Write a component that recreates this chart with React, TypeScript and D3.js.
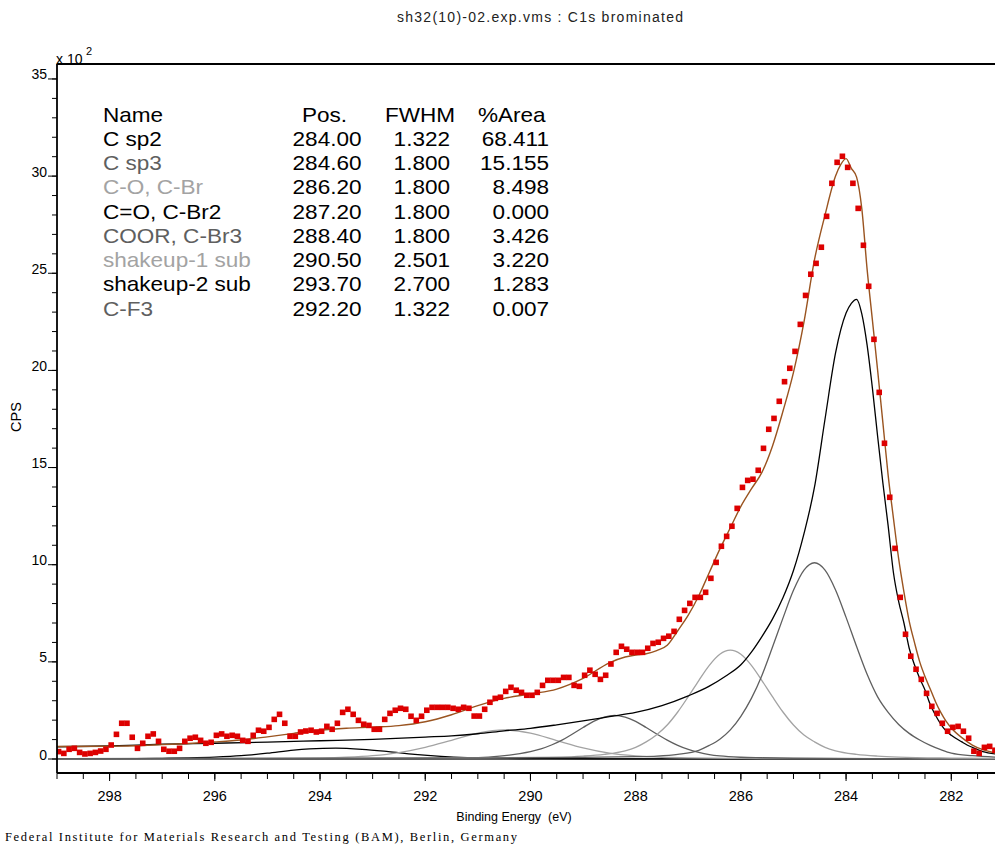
import React from "react";
import * as d3 from "d3";

const FONT = "'Liberation Sans', Arial, Helvetica, sans-serif";

// Measured spectrum (binding energy, eV) and counts (x 10^2 CPS)
const dataEnergy = [
  298.97, 298.87, 298.77, 298.67, 298.57, 298.47, 298.37, 298.27, 298.17, 298.07,
  297.97, 297.87, 297.77, 297.67, 297.57, 297.47, 297.37, 297.27, 297.17, 297.07,
  296.97, 296.87, 296.77, 296.67, 296.57, 296.47, 296.37, 296.27, 296.17, 296.07,
  295.97, 295.87, 295.77, 295.67, 295.57, 295.47, 295.37, 295.27, 295.17, 295.07,
  294.97, 294.87, 294.77, 294.67, 294.57, 294.47, 294.37, 294.27, 294.17, 294.07,
  293.97, 293.87, 293.77, 293.67, 293.57, 293.47, 293.37, 293.27, 293.17, 293.07,
  292.97, 292.87, 292.77, 292.67, 292.57, 292.47, 292.37, 292.27, 292.17, 292.07,
  291.97, 291.87, 291.77, 291.67, 291.57, 291.47, 291.37, 291.27, 291.17, 291.07,
  290.97, 290.87, 290.77, 290.67, 290.57, 290.47, 290.37, 290.27, 290.17, 290.07,
  289.97, 289.87, 289.77, 289.67, 289.57, 289.47, 289.37, 289.27, 289.17, 289.07,
  288.97, 288.87, 288.77, 288.67, 288.57, 288.47, 288.37, 288.27, 288.17, 288.07,
  287.97, 287.87, 287.77, 287.67, 287.57, 287.47, 287.37, 287.27, 287.17, 287.07,
  286.97, 286.87, 286.77, 286.67, 286.57, 286.47, 286.37, 286.27, 286.17, 286.07,
  285.97, 285.87, 285.77, 285.67, 285.57, 285.47, 285.37, 285.27, 285.17, 285.07,
  284.97, 284.87, 284.77, 284.67, 284.57, 284.47, 284.37, 284.27, 284.17, 284.07,
  283.97, 283.87, 283.77, 283.67, 283.57, 283.47, 283.37, 283.27, 283.17, 283.07,
  282.97, 282.87, 282.77, 282.67, 282.57, 282.47, 282.37, 282.27, 282.17, 282.07,
  281.97, 281.87, 281.77, 281.67, 281.57, 281.47, 281.37, 281.27, 281.17,
];
const dataCps = [
  0.38, 0.29, 0.5, 0.55, 0.34, 0.26, 0.29, 0.34, 0.41, 0.5,
  0.72, 1.27, 1.84, 1.84, 1.12, 0.55, 0.81, 1.17, 1.29, 0.91,
  0.5, 0.4, 0.4, 0.55, 0.91, 1.07, 1.12, 0.96, 0.81, 0.86,
  1.22, 1.29, 1.17, 1.22, 1.17, 0.96, 0.91, 1.22, 1.48, 1.43,
  1.63, 2.04, 2.3, 1.84, 1.17, 1.17, 1.39, 1.44, 1.48, 1.39,
  1.43, 1.68, 1.53, 1.84, 2.4, 2.56, 2.3, 1.99, 1.79, 1.73,
  1.53, 1.53, 2.04, 2.35, 2.51, 2.61, 2.56, 2.2, 1.99, 2.2,
  2.51, 2.66, 2.66, 2.66, 2.66, 2.61, 2.56, 2.66, 2.61, 2.21,
  2.21, 2.56, 2.92, 3.12, 3.18, 3.48, 3.69, 3.54, 3.43, 3.28,
  3.28, 3.43, 3.79, 4.05, 4.05, 4.05, 4.2, 4.2, 3.79, 3.74,
  4.31, 4.57, 4.36, 4.1, 4.31, 4.89, 5.49, 5.8, 5.65, 5.49,
  5.49, 5.49, 5.7, 5.95, 6.01, 6.21, 6.32, 6.57, 7.19, 7.65,
  8.01, 8.32, 8.32, 8.58, 9.3, 10.12, 10.95, 11.46, 11.98, 12.9,
  13.98, 14.34, 14.4, 14.86, 15.99, 16.97, 17.53, 18.41, 19.42, 20.11,
  20.98, 22.37, 23.86, 24.95, 25.51, 26.34, 27.93, 29.63, 30.71, 31.02,
  30.45, 29.63, 28.34, 26.44, 24.33, 21.6, 18.87, 16.25, 13.47, 10.84,
  8.32, 6.42, 5.29, 4.62, 4.1, 3.38, 2.71, 2.35, 1.84, 1.43,
  1.63, 1.68, 1.43, 1.07, 0.4, 0.29, 0.6, 0.65, 0.45,
];

// Fitted envelope [BE, cps x100]
const envelope: [number, number][] = [
  [299.0, 0.64], [298.0, 0.66], [297.5, 0.68], [297.0, 0.74], [296.5, 0.8], [296.0, 0.88],
  [295.5, 0.98], [295.0, 1.14], [294.5, 1.32], [294.0, 1.48], [293.5, 1.58], [293.0, 1.64],
  [292.5, 1.72], [292.0, 1.92], [291.5, 2.28], [291.0, 2.75], [290.5, 3.12], [290.0, 3.35],
  [289.5, 3.6], [289.0, 4.15], [288.5, 4.95], [288.2, 5.25], [288.0, 5.35], [287.8, 5.42],
  [287.6, 5.58], [287.4, 5.85], [287.2, 6.6], [287.0, 7.4], [286.8, 8.4], [286.6, 9.6],
  [286.4, 10.8], [286.2, 11.9], [286.0, 13.0], [285.8, 13.9], [285.6, 14.75], [285.4, 16.1],
  [285.2, 17.9], [285.0, 19.9], [284.8, 22.5], [284.6, 25.7], [284.4, 28.0], [284.2, 30.0],
  [284.1, 30.6], [284.0, 30.9], [283.9, 30.4], [283.8, 29.95], [283.7, 28.3], [283.6, 25.2],
  [283.5, 22.6], [283.4, 20.0], [283.3, 17.3], [283.2, 14.6], [283.1, 12.4], [283.0, 10.3],
  [282.9, 8.6], [282.8, 7.1], [282.7, 6.0], [282.6, 5.0], [282.5, 4.25], [282.4, 3.6],
  [282.3, 2.95], [282.2, 2.4], [282.1, 1.95], [282.0, 1.6], [281.8, 1.1], [281.6, 0.72],
  [281.4, 0.48], [281.15, 0.3],
];

// Component curves [BE, cps x100]
const compCsp2: [number, number][] = [
  [299.0, 0.63], [298.0, 0.67], [297.0, 0.76], [296.0, 0.81], [295.0, 0.87], [294.0, 0.94],
  [293.0, 1.01], [292.0, 1.13], [291.5, 1.19], [291.0, 1.3], [290.5, 1.45], [290.0, 1.58],
  [289.5, 1.76], [289.0, 1.96], [288.5, 2.18], [288.0, 2.4], [287.5, 2.75], [287.0, 3.25],
  [286.6, 3.75], [286.3, 4.25], [286.0, 4.85], [285.8, 5.5], [285.6, 6.3], [285.4, 7.2],
  [285.2, 8.3], [285.0, 9.7], [284.8, 11.6], [284.6, 14.0], [284.4, 17.5], [284.2, 20.9],
  [284.0, 22.95], [283.9, 23.45], [283.8, 23.66], [283.7, 22.9], [283.6, 21.3], [283.5, 19.1],
  [283.4, 16.6], [283.3, 14.2], [283.2, 12.0], [283.1, 9.6], [283.0, 8.1], [282.9, 7.0],
  [282.8, 5.7], [282.7, 4.85], [282.6, 4.15], [282.5, 3.55], [282.4, 2.8], [282.3, 2.25],
  [282.2, 1.8], [282.1, 1.45], [282.0, 1.22], [281.8, 0.88], [281.7, 0.72], [281.6, 0.6],
  [281.4, 0.38], [281.15, 0.26],
];
const compCsp3: [number, number][] = [
  [299.0, 0.02], [292.0, 0.04], [289.0, 0.08], [288.0, 0.12], [287.6, 0.15], [287.2, 0.24],
  [286.8, 0.45], [286.6, 0.7], [286.4, 1.02], [286.2, 1.5], [286.0, 2.2], [285.8, 3.12],
  [285.6, 4.3], [285.4, 5.75], [285.2, 7.25], [285.0, 8.68], [284.8, 9.72], [284.6, 10.1],
  [284.4, 9.72], [284.2, 8.7], [284.0, 7.29], [283.8, 5.79], [283.6, 4.36], [283.4, 3.2],
  [283.2, 2.4], [283.0, 1.78], [282.8, 1.32], [282.6, 0.98], [282.4, 0.7], [282.2, 0.48],
  [282.0, 0.3], [281.6, 0.17], [281.15, 0.1],
];
const compCO: [number, number][] = [
  [299.0, 0.02], [293.0, 0.04], [291.0, 0.06], [289.4, 0.1], [289.0, 0.15], [288.6, 0.24],
  [288.2, 0.42], [288.0, 0.6], [287.8, 0.88], [287.6, 1.25], [287.4, 1.75], [287.2, 2.42],
  [287.0, 3.21], [286.8, 4.04], [286.6, 4.82], [286.4, 5.39], [286.2, 5.6], [286.0, 5.39],
  [285.8, 4.82], [285.6, 4.04], [285.4, 3.21], [285.2, 2.42], [285.0, 1.75], [284.8, 1.23],
  [284.6, 0.88], [284.4, 0.6], [284.2, 0.42], [283.8, 0.24], [283.4, 0.15], [283.0, 0.1],
  [282.0, 0.05], [281.15, 0.03],
];
const compCOOR: [number, number][] = [
  [299.0, 0.01], [293.0, 0.03], [291.2, 0.06], [290.8, 0.1], [290.4, 0.2], [290.2, 0.28],
  [290.0, 0.38], [289.8, 0.52], [289.6, 0.72], [289.4, 0.97], [289.2, 1.29], [289.0, 1.62],
  [288.8, 1.94], [288.6, 2.16], [288.4, 2.25], [288.2, 2.16], [288.0, 1.94], [287.8, 1.62],
  [287.6, 1.29], [287.4, 0.97], [287.2, 0.7], [287.0, 0.49], [286.8, 0.34], [286.6, 0.23],
  [286.4, 0.16], [286.0, 0.09], [285.6, 0.065], [285.0, 0.04], [283.0, 0.02], [281.15, 0.01],
];
const compShake1: [number, number][] = [
  [299.0, 0.01], [296.0, 0.02], [295.0, 0.03], [294.5, 0.035], [294.0, 0.05], [293.5, 0.09],
  [293.0, 0.17], [292.5, 0.33], [292.0, 0.6], [291.5, 0.96], [291.0, 1.33], [290.5, 1.5],
  [290.0, 1.33], [289.5, 0.95], [289.0, 0.57], [288.5, 0.3], [288.0, 0.16], [287.5, 0.09],
  [287.0, 0.055], [286.0, 0.03], [284.0, 0.015], [281.15, 0.01],
];
const compShake2: [number, number][] = [
  [299.0, 0.01], [298.0, 0.01], [297.5, 0.02], [297.0, 0.035], [296.5, 0.06], [296.0, 0.1],
  [295.5, 0.17], [295.0, 0.3], [294.5, 0.46], [294.2, 0.52], [293.7, 0.56], [293.2, 0.5],
  [292.7, 0.38], [292.2, 0.24], [291.7, 0.14], [291.2, 0.075], [290.7, 0.04], [290.2, 0.025],
  [289.7, 0.018], [288.7, 0.01], [281.15, 0.005],
];
const compZero: [number, number][] = [[299.0, 0], [281.15, 0]];

// Peak table
const peakNames = ["C sp2", "C sp3", "C-O, C-Br", "C=O, C-Br2", "COOR, C-Br3", "shakeup-1 sub", "shakeup-2 sub", "C-F3"];
const peakPos = ["284.00", "284.60", "286.20", "287.20", "288.40", "290.50", "293.70", "292.20"];
const peakFwhm = ["1.322", "1.800", "1.800", "1.800", "1.800", "2.501", "2.700", "1.322"];
const peakArea = ["68.411", "15.155", "8.498", "0.000", "3.426", "3.220", "1.283", "0.007"];
const peakColors = ["#000000", "#5f5f5f", "#a3a3a3", "#000000", "#5f5f5f", "#a3a3a3", "#000000", "#5f5f5f"];

const xTickLabels = [298, 296, 294, 292, 290, 288, 286, 284, 282];
const yTickLabels = [0, 5, 10, 15, 20, 25, 30, 35];

export default function App() {
  const left = 57, top = 64, right = 996, bottom = 773;
  const x = d3.scaleLinear().domain([299, 281.15]).range([left, right]);
  const y = d3.scaleLinear().domain([-0.72, 35.77]).range([bottom, top]);
  const line = d3
    .line<[number, number]>()
    .x((d) => x(d[0]))
    .y((d) => y(d[1]))
    .curve(d3.curveMonotoneX);

  const xMinor = d3.range(299, 281.4, -0.5);
  const yMinor = d3.range(0, 36, 1);

  const comps: { d: [number, number][]; c: string }[] = [
    { d: compZero, c: "#5f5f5f" },
    { d: compShake2, c: "#000000" },
    { d: compShake1, c: "#a3a3a3" },
    { d: compCOOR, c: "#5f5f5f" },
    { d: compCO, c: "#a3a3a3" },
    { d: compCsp3, c: "#5f5f5f" },
    { d: compCsp2, c: "#000000" },
  ];

  const rowY0 = 121.5;
  const rowStep = 24.25;
  const sx = 1.1;
  const lt = (tx: number, ty: number) => `translate(${tx},${ty}) scale(${sx},1)`;

  return (
    <svg
      width={995}
      height={845}
      style={{ position: "absolute", left: 0, top: 0, display: "block", background: "#fff" }}
      fontFamily={FONT}
    >
      <defs>
        <clipPath id="plotClip">
          <rect x={left} y={top} width={right - left} height={bottom - top} />
        </clipPath>
      </defs>
      <rect x={0} y={0} width={995} height={845} fill="#fff" />

      {/* title */}
      <text x={397} y={22} fontSize={14} fill="#222" textLength={286} lengthAdjust="spacing">
        sh32(10)-02.exp.vms : C1s brominated
      </text>

      {/* multiplier */}
      <text x={56} y={64} fontSize={14} fill="#000">
        x 10
      </text>
      <text x={86} y={55} fontSize={11} fill="#000">
        2
      </text>

      {/* curves */}
      <g clipPath="url(#plotClip)">
        {comps.map((c, i) => (
          <path key={i} d={line(c.d) || ""} fill="none" stroke={c.c} strokeWidth={c.d === compZero ? 2 : 1.3} />
        ))}
        <path d={line(envelope) || ""} fill="none" stroke="#9a5420" strokeWidth={1.4} />
        {dataEnergy.map((e, i) => (
          <rect key={i} x={x(e) - 2.8} y={y(dataCps[i]) - 2.8} width={5.6} height={5.6} fill="#dd0000" />
        ))}
      </g>

      {/* frame */}
      <line x1={left} x2={right} y1={top} y2={top} stroke="#000" strokeWidth={1.8} />
      <line x1={left} x2={left} y1={top} y2={bottom} stroke="#000" strokeWidth={1.8} />
      <line x1={left} x2={right} y1={bottom} y2={bottom} stroke="#000" strokeWidth={1.8} />

      {/* y ticks */}
      {yMinor.map((v) => (
        <line key={"ym" + v} x1={left - 5} x2={left} y1={y(v)} y2={y(v)} stroke="#000" strokeWidth={1} />
      ))}
      {yTickLabels.map((v) => (
        <g key={"yt" + v}>
          <line x1={left - 9} x2={left} y1={y(v)} y2={y(v)} stroke="#000" strokeWidth={1} />
          <text x={47} y={y(v) + 0.5} textAnchor="end" fontSize={14} fill="#000">
            {v}
          </text>
        </g>
      ))}

      {/* x ticks */}
      {xMinor.map((v) => (
        <line key={"xm" + v} x1={x(v)} x2={x(v)} y1={bottom} y2={bottom + 6} stroke="#000" strokeWidth={1} />
      ))}
      {xTickLabels.map((v) => (
        <g key={"xt" + v}>
          <line x1={x(v)} x2={x(v)} y1={bottom} y2={bottom + 8} stroke="#000" strokeWidth={1} />
          <text x={x(v)} y={801} textAnchor="middle" fontSize={14.5} fill="#000">
            {v}
          </text>
        </g>
      ))}

      {/* axis titles */}
      <text x={514} y={821} textAnchor="middle" fontSize={12.5} fill="#000" xmlSpace="preserve">
        Binding Energy  (eV)
      </text>
      <text transform="translate(21,417) rotate(-90)" textAnchor="middle" fontSize={14.5} fill="#000">
        CPS
      </text>

      {/* footer */}
      <text x={5} y={841} fontSize={12.5} fontFamily="'Liberation Serif', 'Times New Roman', serif" fill="#000" textLength={512} lengthAdjust="spacing">
        Federal Institute for Materials Research and Testing (BAM), Berlin, Germany
      </text>

      {/* peak table */}
      <g fontSize={20.5}>
        <text transform={lt(103, rowY0)} fill="#000">Name</text>
        <text transform={lt(302, rowY0)} fill="#000">Pos.</text>
        <text transform={lt(385, rowY0)} fill="#000">FWHM</text>
        <text transform={lt(478, rowY0)} fill="#000">%Area</text>
        {peakNames.map((n, i) => {
          const yy = rowY0 + rowStep * (i + 1);
          return (
            <g key={n}>
              <text transform={lt(103, yy)} fill={peakColors[i]}>{n}</text>
              <text transform={lt(361.5, yy)} textAnchor="end" fill="#000">{peakPos[i]}</text>
              <text transform={lt(450, yy)} textAnchor="end" fill="#000">{peakFwhm[i]}</text>
              <text transform={lt(549, yy)} textAnchor="end" fill="#000">{peakArea[i]}</text>
            </g>
          );
        })}
      </g>
    </svg>
  );
}
